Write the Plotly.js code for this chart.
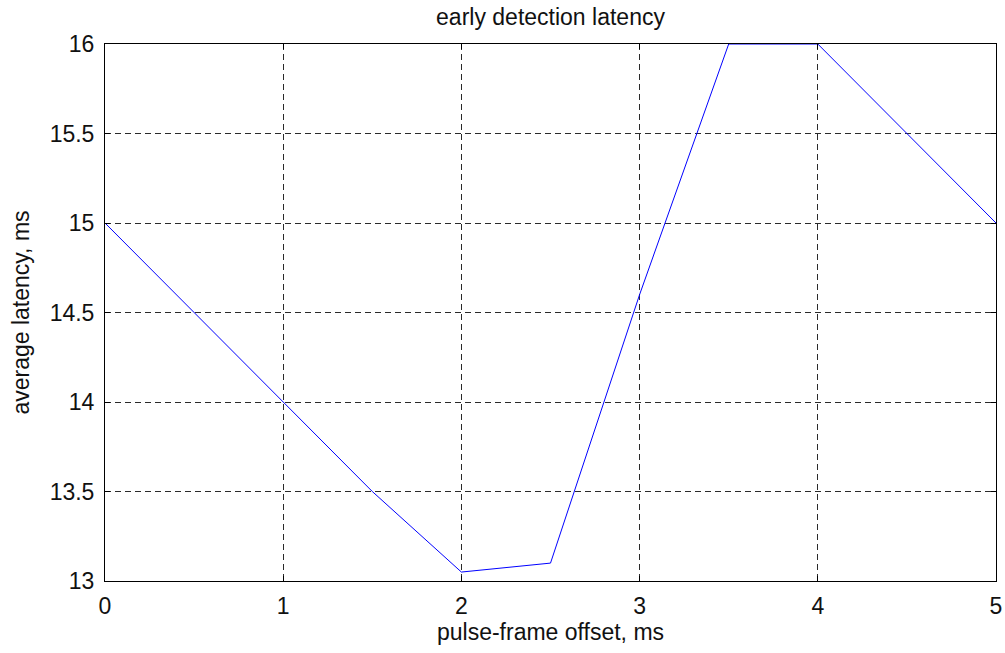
<!DOCTYPE html>
<html>
<head>
<meta charset="utf-8">
<script src="https://cdn.plot.ly/plotly-3.0.1.min.js"></script>
<style>
  html, body { margin: 0; padding: 0; background: #fff; }
  #chart { width: 1005px; height: 653px; }
</style>
</head>
<body>
<div id="chart"></div>
<script>
// Pulse-frame offset (ms) and the resulting average early-detection latency (ms)
const offsetMs = [0, 0.5, 1, 1.5, 2, 2.5, 3, 3.5, 4, 4.5, 5];
const latencyMs = [15, 14.5, 14, 13.5, 13.05, 13.1, 14.6, 16, 16, 15.5, 15];

const xTicks = [0, 1, 2, 3, 4, 5];
const yTicks = [13, 13.5, 14, 14.5, 15, 15.5, 16];
const yTickText = ['13', '13.5', '14', '14.5', '15', '15.5', '16'];

const FONT = 'Liberation Sans, Arial, sans-serif';

const trace = {
  x: offsetMs,
  y: latencyMs,
  type: 'scatter',
  mode: 'lines',
  line: { color: '#0000ff', width: 1 },
  hoverinfo: 'x+y'
};

const axisCommon = {
  showline: true,
  linecolor: '#000',
  linewidth: 1,
  mirror: 'ticks',
  ticks: 'inside',
  ticklen: 5,
  tickcolor: '#000',
  showgrid: true,
  gridcolor: '#2a2a2a',
  gridwidth: 1,
  griddash: '6px,4px',
  zeroline: false,
  tickfont: { family: FONT, size: 23, color: '#111' }
};

const layout = {
  width: 1005,
  height: 653,
  paper_bgcolor: '#fff',
  plot_bgcolor: '#fff',
  showlegend: false,
  margin: { l: 104.5, r: 8.5, t: 44, b: 72, pad: 0 },
  title: {
    text: 'early detection latency',
    font: { family: FONT, size: 23, color: '#111' },
    x: 0.5, xanchor: 'center', xref: 'paper',
    y: 1 - 17 / 653, yanchor: 'middle', yref: 'container'
  },
  xaxis: Object.assign({}, axisCommon, {
    range: [0, 5],
    tickvals: xTicks,
    ticklabelstandoff: 4,
    title: {
      text: 'pulse-frame offset, ms',
      font: { family: FONT, size: 23, color: '#111' },
      standoff: 6
    }
  }),
  yaxis: Object.assign({}, axisCommon, {
    range: [13, 16],
    tickvals: yTicks,
    ticktext: yTickText,
    ticklabelstandoff: 5,
    title: {
      text: 'average latency, ms',
      font: { family: FONT, size: 23, color: '#111' },
      standoff: 13
    }
  })
};

Plotly.newPlot('chart', [trace], layout, { displayModeBar: false, staticPlot: true });
</script>
</body>
</html>
